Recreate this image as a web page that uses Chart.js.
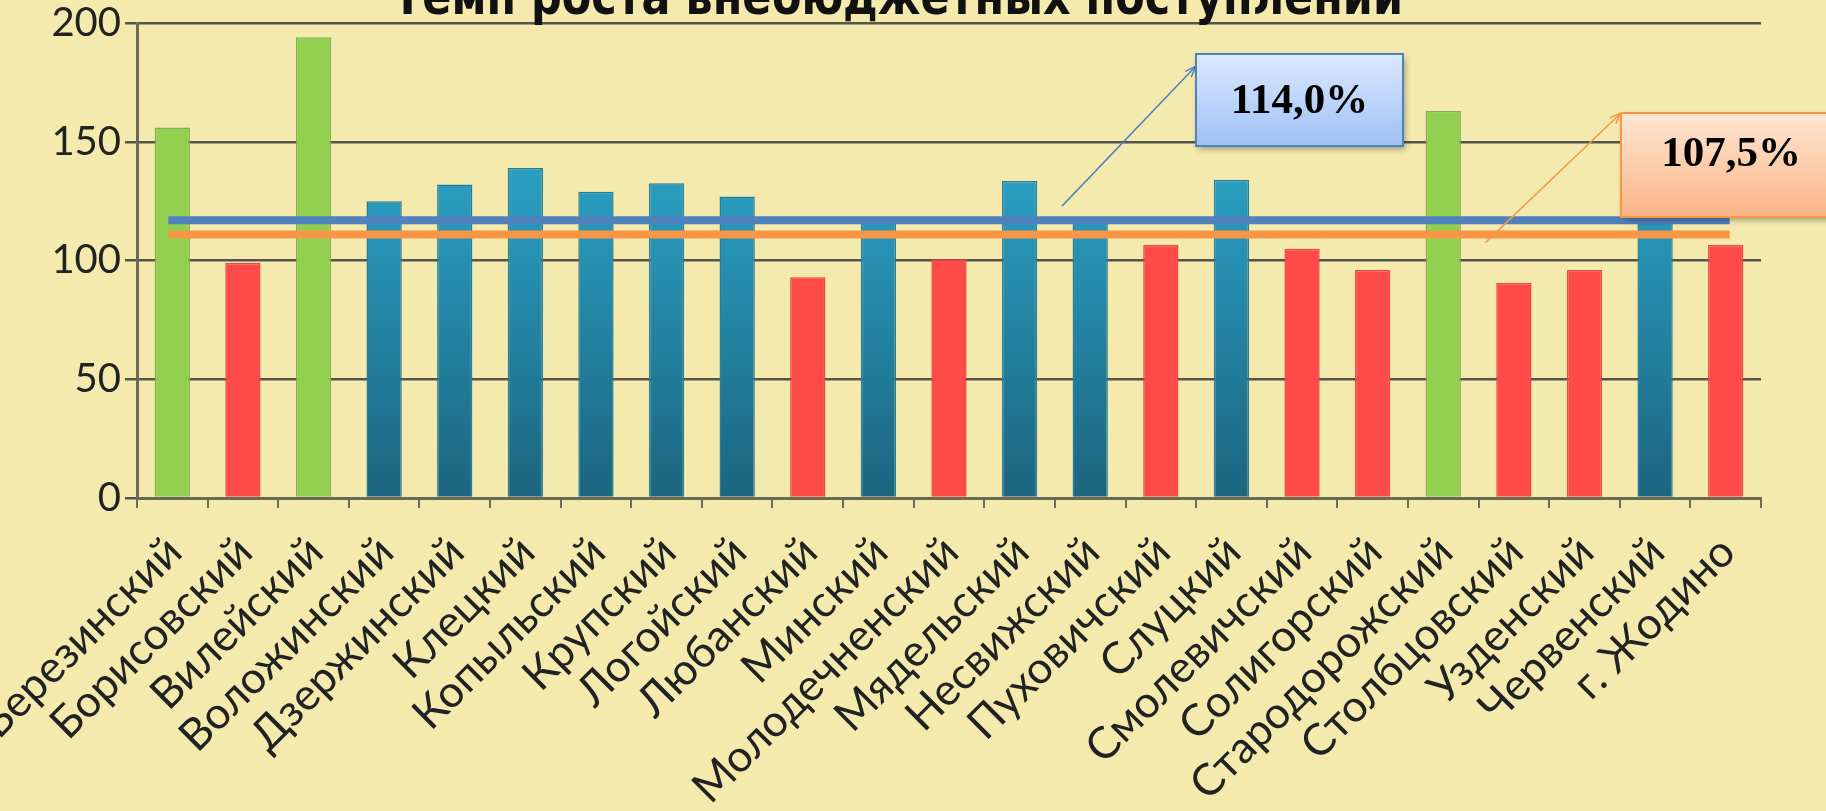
<!DOCTYPE html>
<html>
<head>
<meta charset="utf-8">
<script src="https://cdn.jsdelivr.net/npm/chart.js@4.4.0/dist/chart.umd.min.js"></script>
<style>
  html, body { margin: 0; padding: 0; background: #f4eaae; }
  #wrap { width: 1826px; height: 811px; position: relative; }
</style>
</head>
<body>
<div id="wrap"><canvas id="chart" width="1826" height="811"></canvas></div>
<script>
// районы
const districts = [
   "Березинский", "Борисовский", "Вилейский", "Воложинский", "Дзержинский",
   "Клецкий", "Копыльский", "Крупский", "Логойский", "Любанский", "Минский",
   "Молодечненский", "Мядельский", "Несвижский", "Пуховичский", "Слуцкий",
   "Смолевичский", "Солигорский", "Стародорожский", "Столбцовский",
   "Узденский", "Червенский", "г. Жодино"
];
// темп роста, %
const growth = [
   156, 99, 194, 125, 132, 139, 129, 132.5, 127, 93, 118, 100.5, 133.5, 116,
   106.5, 134, 105, 96, 163, 90.5, 96, 120, 106.5
];
const yTicks = [0, 50, 100, 150, 200];

// средние линии (положение на рисунке) и подписи
const blueLevel = 117;
const orangeLevel = 111;
const blueLabel = "114,0%";
const orangeLabel = "107,5%";

const ctx = document.getElementById("chart").getContext("2d");

const barColor = (c) => {
   const v = c.raw;
   if (v > 150) return "#92d050";
   if (v < 114) return "#ff4a4a";
   const area = c.chart.chartArea;
   if (!area) return "#2590b0";
   const g = c.chart.ctx.createLinearGradient(0, area.top + 150, 0, area.bottom);
   g.addColorStop(0, "#2a9fc2");
   g.addColorStop(1, "#1c6580");
   return g;
};
const barBorder = (c) => {
   const v = c.raw;
   if (v > 150) return "#86ad55";
   if (v < 114) return "#e84848";
   return "#2a7d98";
};

// заголовок (обрезан сверху)
const titlePlugin = {
   id: "cutTitle",
   afterDraw(chart) {
      const c = chart.ctx;
      c.save();
      c.font = "bold 52px 'DejaVu Sans Condensed', 'DejaVu Sans', sans-serif";
      c.fillStyle = "#111";
      c.textAlign = "center";
      c.textBaseline = "alphabetic";
      c.fillText("Темп роста внебюджетных поступлений", 898, 14, 1010);
      c.restore();
   }
};

// выноски со стрелками
const calloutPlugin = {
   id: "callouts",
   afterDatasetsDraw(chart) {
      const c = chart.ctx;
      const x = chart.scales.x;
      const y = chart.scales.y;
      const step = x.getPixelForValue(1) - x.getPixelForValue(0);

      const drawBox = (bx, by, bw, bh, top, bottom, border, text, dy) => {
         c.save();
         c.shadowColor = "rgba(0,0,0,0.35)";
         c.shadowBlur = 6;
         c.shadowOffsetX = 2;
         c.shadowOffsetY = 3;
         const g = c.createLinearGradient(0, by, 0, by + bh);
         g.addColorStop(0, top);
         g.addColorStop(1, bottom);
         c.fillStyle = g;
         c.fillRect(bx, by, bw, bh);
         c.restore();
         c.save();
         c.strokeStyle = border;
         c.lineWidth = 2;
         c.strokeRect(bx, by, bw, bh);
         c.fillStyle = "#000";
         c.font = "bold 43px 'Liberation Serif', serif";
         c.textAlign = "center";
         c.textBaseline = "middle";
         c.fillText(text, bx + bw / 2, by + bh / 2 + dy);
         c.restore();
      };

      const drawArrow = (x0, y0, x1, y1, color) => {
         c.save();
         c.strokeStyle = color;
         c.lineWidth = 1.5;
         c.beginPath();
         c.moveTo(x0, y0);
         c.lineTo(x1, y1);
         c.stroke();
         const a = Math.atan2(y1 - y0, x1 - x0);
         c.beginPath();
         c.moveTo(x1 - 12 * Math.cos(a - 0.35), y1 - 12 * Math.sin(a - 0.35));
         c.lineTo(x1, y1);
         c.lineTo(x1 - 12 * Math.cos(a + 0.35), y1 - 12 * Math.sin(a + 0.35));
         c.stroke();
         c.restore();
      };

      // синяя
      const bx0 = x.getPixelForValue(12) + step * 0.6;
      const by0 = y.getPixelForValue(blueLevel) - 14;
      drawArrow(bx0, by0, 1196, 66, "#4f81bd");
      drawBox(1196, 54, 207, 92, "#dce9fe", "#9fc0f6", "#4f81bd", blueLabel, 2);

      // оранжевая
      const ox0 = x.getPixelForValue(18) + step * 0.6;
      const oy0 = y.getPixelForValue(orangeLevel) + 8;
      drawArrow(ox0, oy0, 1621, 113, "#f79646");
      drawBox(1621, 113, 220, 104, "#fee6d3", "#fbb585", "#f79646", orangeLabel, -10);
   }
};

new Chart(ctx, {
   data: {
      labels: districts,
      datasets: [
         {
            type: "line",
            data: [
               { x: districts[0], y: blueLevel },
               { x: districts[districts.length - 1], y: blueLevel }
            ],
            borderColor: "#4f81bd",
            borderWidth: 8,
            borderCapStyle: "square",
            pointRadius: 0,
            order: 1
         },
         {
            type: "line",
            data: [
               { x: districts[0], y: orangeLevel },
               { x: districts[districts.length - 1], y: orangeLevel }
            ],
            borderColor: "#f79646",
            borderWidth: 8,
            borderCapStyle: "square",
            pointRadius: 0,
            order: 0
         },
         {
            type: "bar",
            data: growth,
            backgroundColor: barColor,
            borderColor: barBorder,
            borderWidth: 1.5,
            barPercentage: 0.5,
            categoryPercentage: 1,
            order: 2
         }
      ]
   },
   options: {
      responsive: false,
      animation: false,
      layout: { padding: { top: 23, right: 65, left: 0, bottom: 0 } },
      plugins: {
         legend: { display: false },
         tooltip: { enabled: false }
      },
      scales: {
         x: {
            type: "category",
            offset: true,
            grid: {
               display: true,
               drawOnChartArea: false,
               drawTicks: true,
               tickLength: 10,
               offset: true,
               color: "#6b6b55",
               lineWidth: 2
            },
            border: { color: "#6b6b55", width: 3 },
            ticks: {
               autoSkip: false,
               maxRotation: 45,
               minRotation: 45,
               color: "#222",
               padding: 18,
               labelOffset: 2,
               font: { size: 44, family: "Lato, 'Open Sans', sans-serif" }
            },
            afterFit(scale) {
               scale.height = 313;
               scale.paddingLeft = 0;
               scale.paddingRight = 0;
            }
         },
         y: {
            min: 0,
            max: 200,
            afterBuildTicks(scale) {
               scale.ticks = yTicks.map(v => ({ value: v }));
            },
            grid: {
               color: "#55554a",
               lineWidth: 2.5,
               tickLength: 12
            },
            border: { color: "#6b6b55", width: 3 },
            ticks: {
               color: "#222",
               padding: 4,
               font: { size: 40, family: "Lato, 'Open Sans', sans-serif" }
            },
            afterFit(scale) {
               scale.width = 137;
               scale.paddingTop = 0;
               scale.paddingBottom = 0;
            }
         }
      }
   },
   plugins: [titlePlugin, calloutPlugin]
});
</script>
</body>
</html>
